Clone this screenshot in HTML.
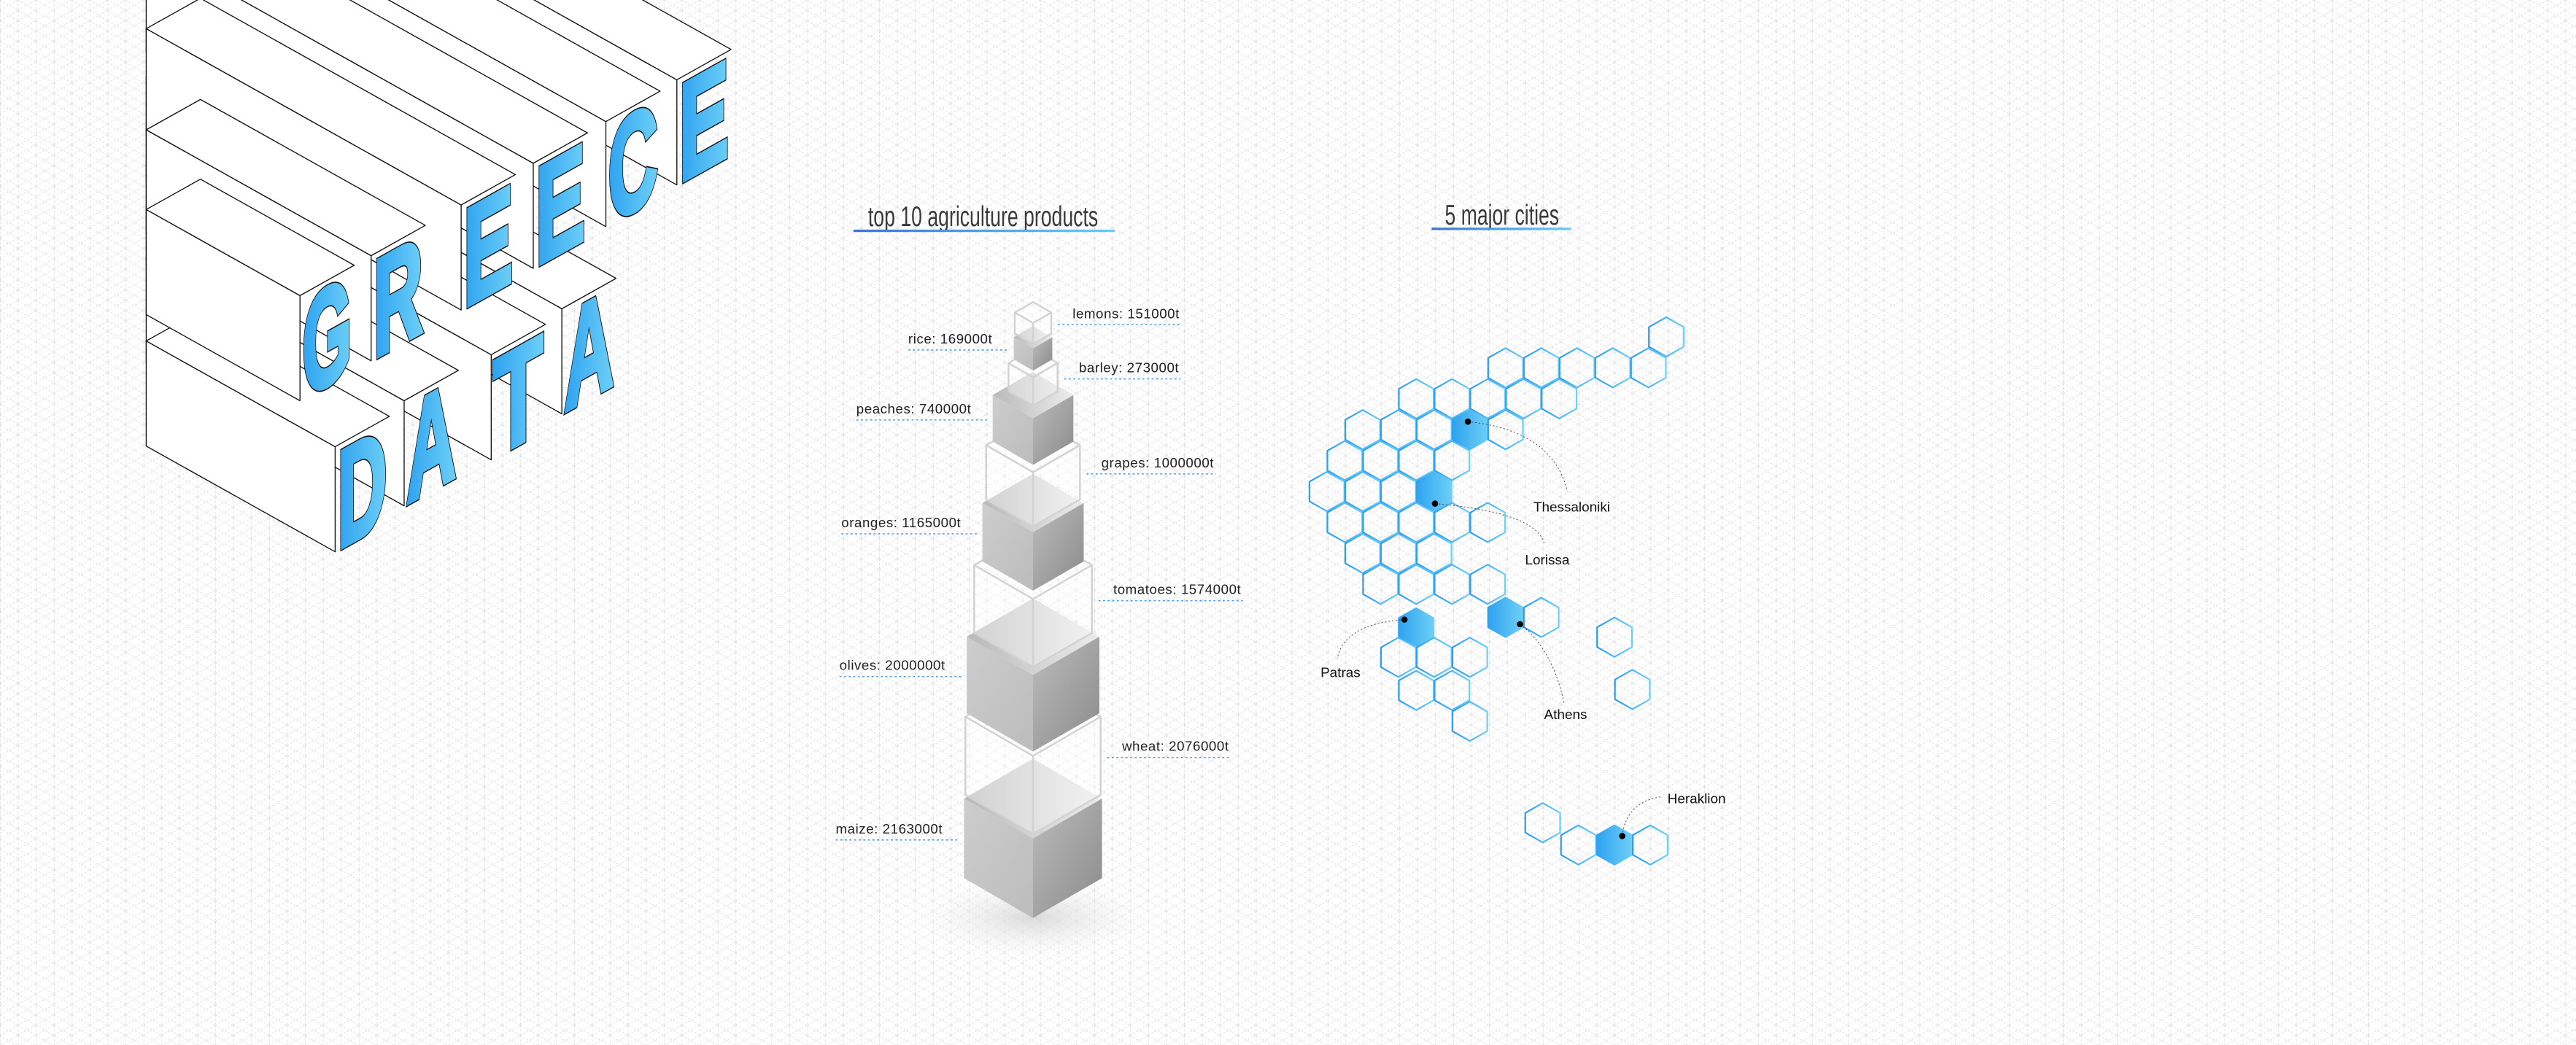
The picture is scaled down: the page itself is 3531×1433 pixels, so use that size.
<!DOCTYPE html>
<html><head><meta charset="utf-8"><title>Greece Data</title>
<style>
html,body{margin:0;padding:0;background:#fff;}
svg{display:block;}
text{font-family:"Liberation Sans",sans-serif;}
</style></head>
<body>
<svg id="chart" xmlns="http://www.w3.org/2000/svg" width="3531" height="1433" viewBox="0 0 1568 636.3" preserveAspectRatio="none">
<defs>
<pattern id="iso" patternUnits="userSpaceOnUse" width="10.92" height="12.61">
<g stroke="#dedede" stroke-width="0.4" stroke-dasharray="1.3 0.9" fill="none">
<line x1="0.2" y1="0" x2="0.2" y2="12.61"/>
<line x1="0" y1="0" x2="10.92" y2="6.305"/>
<line x1="0" y1="6.305" x2="10.92" y2="12.61"/>
<line x1="0" y1="6.305" x2="10.92" y2="0"/>
<line x1="0" y1="12.61" x2="10.92" y2="6.305"/>
</g>
</pattern>
<linearGradient id="blueFace" x1="0" y1="0" x2="1" y2="0"><stop offset="0" stop-color="#2fa3f0"/><stop offset="1" stop-color="#6dcff7"/></linearGradient>
<linearGradient id="hexStroke" x1="0" y1="0" x2="1" y2="0"><stop offset="0" stop-color="#2f9ef0"/><stop offset="1" stop-color="#6fd0f7"/></linearGradient>
<linearGradient id="underline" x1="0" y1="0" x2="1" y2="0"><stop offset="0" stop-color="#3f74d6"/><stop offset="1" stop-color="#66cdf6"/></linearGradient>
<linearGradient id="topGrad" x1="0" y1="0" x2="1" y2="0"><stop offset="0" stop-color="#b9b9b9"/><stop offset="1" stop-color="#ececec"/></linearGradient>
<linearGradient id="leftGrad" x1="0" y1="0" x2="1" y2="1"><stop offset="0" stop-color="#cdcdcd"/><stop offset="1" stop-color="#bcbcbc"/></linearGradient>
<linearGradient id="rightGrad" x1="0" y1="0" x2="1" y2="1"><stop offset="0" stop-color="#bdbdbd"/><stop offset="1" stop-color="#8a8a8a"/></linearGradient>
<radialGradient id="shadowGrad" cx="0.5" cy="0.5" r="0.5"><stop offset="0" stop-color="#d6d6d6" stop-opacity="0.9"/><stop offset="1" stop-color="#ffffff" stop-opacity="0"/></radialGradient>
</defs>
<rect x="0" y="0" width="1568" height="636.3" fill="#ffffff"/>
<rect x="0" y="0" width="1568" height="636.3" fill="url(#iso)"/>
<g id="letters"></g>

<text x="528.4" y="137.7" font-size="17.3" textLength="140" lengthAdjust="spacingAndGlyphs" fill="#3a3a3a" style="font-family:'Liberation Sans Narrow','Liberation Sans',sans-serif">top 10 agriculture products</text>
<rect x="519.5" y="139.8" width="159" height="1.5" fill="url(#underline)"/>
<text x="879.5" y="136.8" font-size="17.3" textLength="69.5" lengthAdjust="spacingAndGlyphs" fill="#3a3a3a" style="font-family:'Liberation Sans Narrow','Liberation Sans',sans-serif">5 major cities</text>
<rect x="871.4" y="138.6" width="85" height="1.5" fill="url(#underline)"/>

<g id="tower"></g>
<g id="map"></g>
</svg>
<script>
// ---- agriculture data ----
const products = ['maize','wheat','olives','tomatoes','oranges','grapes','peaches','barley','rice','lemons'];
const tonnes = [2163000,2076000,2000000,1574000,1165000,1000000,740000,273000,169000,151000];

// ---- city hex map data (grid col/row units) ----
const hexCols = [19, 10,12,14,16,18, 5,7,9,11,13, 2,4,6,8,10, 1,3,5,7, 0,2,4,6, 1,3,5,7,9, 2,4,6, 3,5,7,9, 10,12, 5, 4,6,8, 5,7, 8, 16.1,17.1, 12.08,14.08,16.1,18.1];
const hexRows = [0, 1,1,1,1,1, 2,2,2,2,2, 3,3,3,3,3, 4,4,4,4, 5,5,5,5, 6,6,6,6,6, 7,7,7, 8,8,8,8, 9.07,9.07, 9.41, 10.36,10.36,10.36, 11.43,11.43, 12.43, 9.71,11.4, 15.71,16.43,16.43,16.43];
const cityHexIndex = [14, 23, 38, 36, 49];
const cityNames = ['Thessaloniki','Lorissa','Patras','Athens','Heraklion'];
const cityDotCol = [7.89, 6.05, 4.34, 10.81, 16.53];
const cityDotRow = [2.74, 5.39, 9.14, 9.29, 16.14];

const NS = 'http://www.w3.org/2000/svg';
function el(tag, attrs, parent){
  const e = document.createElementNS(NS, tag);
  for (const k in attrs) e.setAttribute(k, attrs[k]);
  parent.appendChild(e);
  return e;
}
const pts = a => a.map(p => p[0].toFixed(2)+','+p[1].toFixed(2)).join(' ');

// ---- 3D letters ----
const lettersG = document.getElementById('letters');
const word1 = ['G','R','E','E','C','E'];
const w1L = [182.6,225.9,280.7,324.6,368.8,412];
const w1T = [180,155.7,124.8,99.4,74,48.6];
const word2 = ['D','A','T','A'];
const w2L = [204,246,299,342];
const w2T = [272,244,216,188];
function drawLetter(ch, L, T, idx, word){
  const W = 33, H = 64, s = 0.56, k = L - 89;
  const P1 = [L,T], P2 = [L+W, T - W*s], P3 = [L, T+H];
  const d = [-k, -k*s];
  const g = el('g', {}, lettersG);
  
  
  const side = el('polygon', {points: pts([P1,P3,[P3[0]+d[0],P3[1]+d[1]],[P1[0]+d[0],P1[1]+d[1]]]), fill:'#fff', stroke:'#111', 'stroke-width':0.6, 'stroke-linejoin':'round'}, g);
  
  
  const top = el('polygon', {points: pts([P1,P2,[P2[0]+d[0],P2[1]+d[1]],[P1[0]+d[0],P1[1]+d[1]]]), fill:'#fff', stroke:'#111', 'stroke-width':0.6, 'stroke-linejoin':'round'}, g);
  
  
  const tf = 'matrix(1,'+(-s)+',0,1,'+(L+1.5)+','+(T+H-1.5)+')';
  const st = "font-family:'Liberation Sans Narrow','Liberation Sans',sans-serif";
  const o = el('text', {transform:tf, 'font-size':84, 'font-weight':'bold', textLength:W-3, lengthAdjust:'spacingAndGlyphs', fill:'#111', stroke:'#111', 'stroke-width':4.6, 'stroke-linejoin':'miter', style:st}, g);
  o.textContent = ch;
  
  
  const t = el('text', {transform:tf, 'font-size':84, 'font-weight':'bold', textLength:W-3, lengthAdjust:'spacingAndGlyphs', fill:'url(#blueFace)', stroke:'url(#blueFace)', 'stroke-width':3.2, 'stroke-linejoin':'miter', style:st}, g);
  t.textContent = ch;
  
  
}
for (let i = word2.length-1; i >= 0; i--) drawLetter(word2[i], w2L[i], w2T[i], i, 'data');
for (let i = word1.length-1; i >= 0; i--) drawLetter(word1[i], w1L[i], w1T[i], i, 'greece');

// ---- cube tower ----
const tower = document.getElementById('tower');
const cx = 628.8, baseY = 534.7, gap = 2.2;
const edge = v => 0.03298 * Math.sqrt(v);
const shadow = el('ellipse', {cx: cx, cy: baseY + 24, rx: 85, ry: 30, fill: 'url(#shadowGrad)'}, tower);


let yb = baseY;
const labelsG = el('g', {}, tower);


products.forEach((name, i) => {
  const e = edge(tonnes[i]);
  const a = 0.866 * e, b = 0.5 * e;
  const yt = yb - e;
  const solid = (i % 2 === 0);
  const g = el('g', {}, tower);
  
  
  const topF = [[cx, yt-b],[cx+a, yt],[cx, yt+b],[cx-a, yt]];
  const leftF = [[cx-a, yt],[cx, yt+b],[cx, yb+b],[cx-a, yb]];
  const rightF = [[cx, yt+b],[cx+a, yt],[cx+a, yb],[cx, yb+b]];
  if (solid) {
    const l = el('polygon', {points: pts(leftF), fill:'url(#leftGrad)'}, g);
    
    
    const r = el('polygon', {points: pts(rightF), fill:'url(#rightGrad)'}, g);
    
    
    const tp = el('polygon', {points: pts(topF), fill:'url(#topGrad)'}, g);
    
    
  } else {
    const o = el('polygon', {points: pts([[cx, yt-b],[cx+a, yt],[cx+a, yb],[cx, yb+b],[cx-a, yb],[cx-a, yt]]), fill:'#ffffff', 'fill-opacity':0.35, stroke:'#d2d2d2', 'stroke-width':1.1, 'stroke-linejoin':'round'}, g);
    
    
    const y = el('polyline', {points: pts([[cx-a, yt],[cx, yt+b],[cx+a, yt]]), fill:'none', stroke:'#d2d2d2', 'stroke-width':1.1}, g);
    
    
    const v = el('line', {x1:cx, y1:yt+b, x2:cx, y2:yb+b, stroke:'#d2d2d2', 'stroke-width':1.1}, g);
    
    
  }
  const ly = yb - e/2 + 1;
  const txt = el('text', {'font-size':8.3, fill:'#222', 'letter-spacing':0.25}, labelsG);
  txt.textContent = name + ': ' + tonnes[i] + 't';
  
  
  const len = txt.getComputedTextLength ? txt.getComputedTextLength() : 60;
  let x1, x2;
  if (solid) {
    const tx = cx - a - 13;
    txt.setAttribute('x', tx); txt.setAttribute('y', ly - 4);
    txt.setAttribute('text-anchor', 'end');
    x1 = tx - len; x2 = cx - a - 3;
  } else {
    const tx = cx + a + 13;
    txt.setAttribute('x', tx); txt.setAttribute('y', ly - 4);
    x1 = cx + a + 4; x2 = tx + len + 1;
  }
  const ln = el('line', {x1:x1, y1:ly, x2:x2, y2:ly, stroke:'#4d9be6', 'stroke-width':0.7, 'stroke-dasharray':'1.2 1.6'}, labelsG);
  
  
  yb = yt - gap;
});

// ---- hex map ----
const map = document.getElementById('map');
const hx = c => 777.1 + (180 + c*64) * 0.1699;
const hy = r => 111 + (350 + r*70) * 0.269;
const hw = 10.6, hr = 12.0;
hexCols.forEach((c, i) => {
  const x = hx(c), y = hy(hexRows[i]);
  const filled = cityHexIndex.indexOf(i) >= 0;
  const p = el('polygon', {points: pts([[x, y-hr],[x+hw, y-hr/2],[x+hw, y+hr/2],[x, y+hr],[x-hw, y+hr/2],[x-hw, y-hr/2]]), fill: filled ? 'url(#blueFace)' : 'none', stroke:'url(#hexStroke)', 'stroke-width':1.0, 'stroke-linejoin':'round'}, map);
  
  
});
const labelX = [933.4, 928.3, 803.8, 939.9, 1015];
const labelY = [311.4, 343.7, 412.3, 437.8, 489];
const leaderCtrl = [[945,262],[935,312],[818,380],[945,395],[990,488]];
const leaderEnd = [[954,299],[940,331],[814,401],[952,428],[1012,485]];
cityNames.forEach((n, i) => {
  const dx = hx(cityDotCol[i]), dy = hy(cityDotRow[i]);
  const path = el('path', {d: 'M'+dx+','+dy+' Q'+leaderCtrl[i][0]+','+leaderCtrl[i][1]+' '+leaderEnd[i][0]+','+leaderEnd[i][1], fill:'none', stroke:'#444', 'stroke-width':0.4, 'stroke-dasharray':'1 1.2'}, map);
  
  
  const dot = el('circle', {cx:dx, cy:dy, r:1.9, fill:'#000'}, map);
  
  
  const t = el('text', {x:labelX[i], y:labelY[i], 'font-size':8.4, fill:'#111'}, map);
  t.textContent = n;
  
  
});
</script>
</body></html>
